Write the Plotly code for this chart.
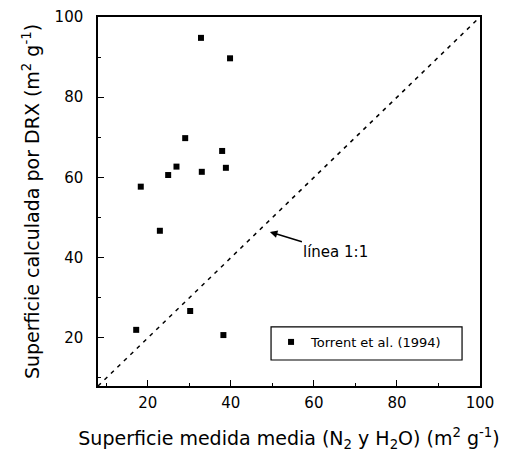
import plotly.graph_objects as go

# Data
x_vals = [32.8, 39.8, 29.0, 37.9, 26.9, 38.8, 24.9, 33.0, 18.3, 22.9, 30.2, 17.2, 38.2]
y_vals = [94.8, 89.7, 69.8, 66.6, 62.7, 62.4, 60.6, 61.4, 57.7, 46.7, 26.7, 22.0, 20.7]
series_name = "Torrent et al. (1994)"
line_vals = [8, 100]
tick_vals = [20, 40, 60, 80, 100]

font_family = "DejaVu Sans, Liberation Sans, Arial, sans-serif"

fig = go.Figure()
fig.add_trace(go.Scatter(
    x=line_vals, y=line_vals, mode="lines",
    line=dict(color="black", width=1.5, dash="4px,5px"),
    showlegend=False, hoverinfo="skip"))
fig.add_trace(go.Scatter(
    x=x_vals, y=y_vals, mode="markers", name=series_name,
    marker=dict(symbol="square", size=6, color="black")))

axis_common = dict(
    range=[8, 100], tickvals=tick_vals, ticks="inside", ticklen=6,
    tickwidth=1.2, tickcolor="black", showline=True, linecolor="black",
    linewidth=1.5, mirror=True, showgrid=False, zeroline=False,
    automargin=False,
    tickfont=dict(size=15, color="black", family=font_family),
    minor=dict(dtick=10, ticks="inside", ticklen=3, tickcolor="black"),
)

fig.update_xaxes(**axis_common, ticklabelstandoff=2,
    title=dict(text="Superficie medida media (N<sub>2</sub> y H<sub>2</sub>O) (m<sup>2</sup> g<sup>-1</sup>)",
               font=dict(size=19, color="black", family=font_family), standoff=21))
fig.update_yaxes(**axis_common, ticklabelstandoff=10,
    title=dict(text="Superficie calculada por DRX (m<sup>2</sup> g<sup>-1</sup>)",
               font=dict(size=19, color="black", family=font_family), standoff=10))

fig.add_annotation(
    x=49.4, y=46.4, xref="x", yref="y", text="línea 1:1",
    showarrow=True, ax=66, ay=20, arrowhead=2, arrowsize=1, arrowwidth=1.5,
    arrowcolor="black", font=dict(size=15, color="black", family=font_family))

# legend frame
fig.add_shape(type="rect", xref="paper", yref="paper",
              x0=0.453, x1=0.953, y0=0.0705, y1=0.16,
              line=dict(color="black", width=1.2), fillcolor="white", layer="above")

# page body has an 8px default margin, so the figure is drawn 8px smaller
fig.update_layout(
    width=499, height=451,
    margin=dict(l=90, r=27, t=9, b=73, autoexpand=False),
    paper_bgcolor="white", plot_bgcolor="white",
    font=dict(family=font_family, color="black"),
    legend=dict(x=0.453, y=0.16, xanchor="left", yanchor="top",
                borderwidth=0, bgcolor="rgba(0,0,0,0)",
                font=dict(size=13, color="black", family=font_family),
                itemwidth=30),
)

fig.write_html("out.html")
